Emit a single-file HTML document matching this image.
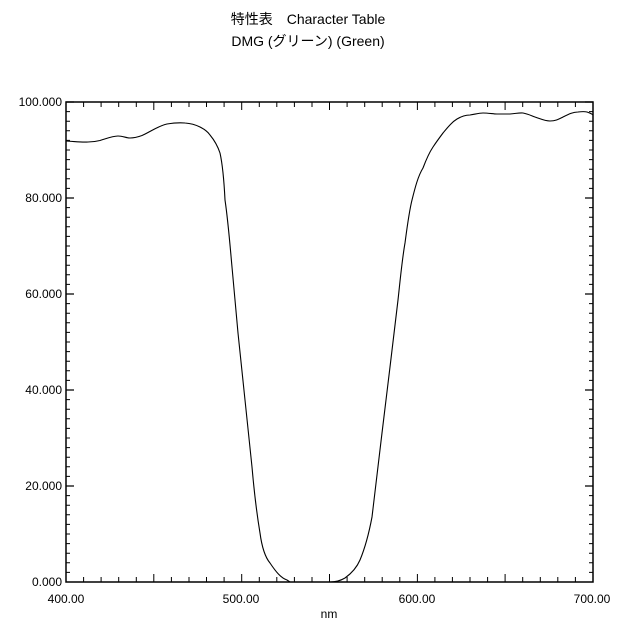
<!DOCTYPE html>
<html><head><meta charset="utf-8"><style>
body{margin:0;background:#fff;width:617px;height:624px;overflow:hidden}
text{font-family:"Liberation Sans","Noto Sans CJK JP",sans-serif;fill:#000}
</style></head><body>
<svg width="617" height="624" viewBox="0 0 617 624" xmlns="http://www.w3.org/2000/svg">
<text x="308" y="24" font-size="14" text-anchor="middle">特性表　Character Table</text>
<text x="308" y="46" font-size="14" text-anchor="middle">DMG (グリーン) (Green)</text>
<rect x="66" y="102" width="527" height="480" fill="none" stroke="#000" stroke-width="1.5"/>
<g stroke="#000" stroke-width="1">
<path d="M66,102h8M66,198h8M66,294h8M66,390h8M66,486h8M593,102h-8M593,198h-8M593,294h-8M593,390h-8M593,486h-8" stroke-width="1.3"/>
<path id="yt" d="M66,111.6h4M66,121.2h4M66,130.8h4M66,140.4h4M66,150h4M66,159.6h4M66,169.2h4M66,178.8h4M66,188.4h4"/>
<use href="#yt" y="96"/><use href="#yt" y="192"/><use href="#yt" y="288"/><use href="#yt" y="384"/>
<path id="yr" d="M593,111.6h-4M593,121.2h-4M593,130.8h-4M593,140.4h-4M593,150h-4M593,159.6h-4M593,169.2h-4M593,178.8h-4M593,188.4h-4"/>
<use href="#yr" y="96"/><use href="#yr" y="192"/><use href="#yr" y="288"/><use href="#yr" y="384"/>
<path id="xt" d="M83.6,582v-5M101.1,582v-5M118.7,582v-5M136.3,582v-5M153.8,582v-8M171.4,582v-5M189,582v-5M206.5,582v-5M224.1,582v-5M241.7,582v-8"/>
<use href="#xt" x="175.7"/><use href="#xt" x="351.3"/>
<path id="xu" d="M83.6,102v5M101.1,102v5M118.7,102v5M136.3,102v5M153.8,102v8M171.4,102v5M189,102v5M206.5,102v5M224.1,102v5M241.7,102v8"/>
<use href="#xu" x="175.7"/><use href="#xu" x="351.3"/>
</g>
<g font-size="12" text-anchor="end">
<text x="62" y="106">100.000</text><text x="62" y="202">80.000</text><text x="62" y="298">60.000</text>
<text x="62" y="394">40.000</text><text x="62" y="490">20.000</text><text x="62" y="586">0.000</text>
</g>
<g font-size="12" text-anchor="middle">
<text x="66" y="603">400.00</text><text x="241" y="603">500.00</text><text x="417" y="603">600.00</text><text x="592" y="603">700.00</text>
<text x="329" y="618">nm</text>
</g>
<path fill="none" stroke="#000" stroke-width="1.1" d="M66,141 C75,141.5 82,142.5 88,142 C93,142 96,141.5 100,140.5 C108,138 113,136 118,136 C123,136 126,138 130,138 C135,138 138,137 142,135.5 C150,132 158,126 167,124 C173,123 180,122.5 185,123 C192,123.5 196,125 200,127 C205,129.5 208,132 210,135 C215,141 218,147 220,153 C222,162 224,180 225,200 C228,220 230,245 232,267 L238,333 L245,400 L252,467 C254,490 257,515 260,533 C262,548 265,557 270,563 C276,572 281,578 287,580 L290,582 L330,582 C336,582 340,581 345,578 C352,573 357,567 360,560 C365,548 369,533 372,517 L382,433 L390,367 L398,300 C400,282 402,260 405,243 C407,228 409,212 412,200 C415,188 418,176 423,168 C426,160 429,153 433,147 C437,141 440,137 443,133 C448,127 452,122 457,119 C462,116 466,115 470,115 C476,114 479,113 483,113 C489,113 493,114 497,114 C502,114 506,114 510,114 C516,113.5 520,112.5 523,113 C528,114 531,115.5 535,117 C541,119 545,121 550,121 C556,121 559,119 563,117 C569,114 573,112 578,112 C582,111.5 585,111.5 587,112 C590,113 592,114 593,115"/>
</svg>
</body></html>
